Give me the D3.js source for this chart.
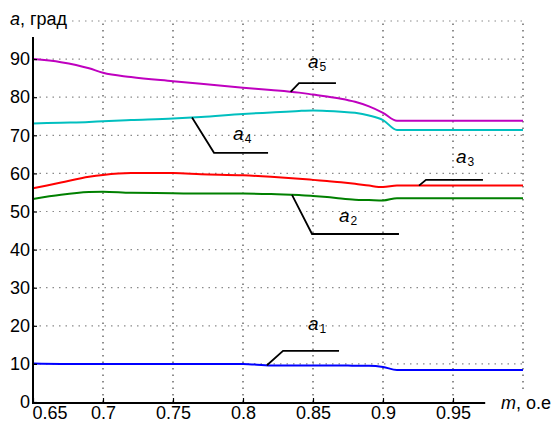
<!DOCTYPE html>
<html>
<head>
<meta charset="utf-8">
<script src="https://cdn.jsdelivr.net/npm/d3@7"></script>
<style>
  html, body { margin: 0; padding: 0; background: #fff; }
  svg { display: block; font-family: "Liberation Sans", Arial, sans-serif; }
</style>
</head>
<body>
<svg id="chart" width="554" height="423"></svg>
<script>
// Modulation index m (o.e) and the five angles a1..a5 (degrees)
const mValues = [0.65, 0.67, 0.69, 0.70, 0.72, 0.75, 0.77, 0.80, 0.82, 0.84, 0.85, 0.86, 0.87, 0.88, 0.89, 0.90, 0.91, 0.95, 1.00];
const a1 = [10.1, 10.0, 10.0, 10.0, 10.0, 10.0, 10.0, 10.0, 9.6, 9.6, 9.6, 9.6, 9.6, 9.5, 9.5, 9.2, 8.4, 8.4, 8.4];
const a2 = [53.3, 54.4, 55.1, 55.2, 54.9, 54.8, 54.7, 54.7, 54.6, 54.3, 54.1, 53.8, 53.4, 53.1, 53.0, 52.9, 53.5, 53.5, 53.5];
const a3 = [56.1, 57.6, 59.1, 59.6, 60.1, 60.1, 59.8, 59.5, 59.1, 58.6, 58.3, 58.0, 57.7, 57.3, 56.8, 56.4, 56.8, 56.8, 56.8];
const a4 = [73.1, 73.3, 73.5, 73.7, 74.0, 74.4, 74.8, 75.6, 76.0, 76.4, 76.5, 76.4, 76.2, 75.9, 75.2, 74.0, 71.4, 71.4, 71.4];
const a5 = [90.0, 89.2, 87.6, 86.4, 85.3, 84.2, 83.5, 82.5, 81.9, 81.2, 80.7, 80.2, 79.6, 78.8, 77.6, 75.9, 73.8, 73.8, 73.8];

const seriesNames = ["1", "2", "3", "4", "5"];
const seriesColors = ["#0000ff", "#008000", "#ff0000", "#00bfbf", "#bf00bf"];

const xTickValues = [0.65, 0.7, 0.75, 0.8, 0.85, 0.9, 0.95];
const xTickLabels = ["0.65", "0.7", "0.75", "0.8", "0.85", "0.9", "0.95"];
const xGridValues = [0.7, 0.75, 0.8, 0.85, 0.9, 0.95, 1.0];
const yTickValues = [0, 10, 20, 30, 40, 50, 60, 70, 80, 90];
const yGridValues = [10, 20, 30, 40, 50, 60, 70, 80, 90, 100];

// Label callouts: anchor m on the curve, elbow point, end of shelf, label position
const calloutSeries = [4, 3, 2, 1, 0];
const calloutAnchorM = [0.834, 0.7636, 0.9257, 0.835, 0.8171];
const calloutElbow = [[0.840, 83.7], [0.7793, 65.4], [0.9307, 58.3], [0.8493, 44.1], [0.8286, 13.4]];
const calloutEndM = [0.8664, 0.8179, 0.9714, 0.9114, 0.8686];
const calloutText = [[0.8464, 87.7], [0.7929, 68.8], [0.9521, 62.7], [0.8686, 47.2], [0.8464, 18.9]];

const series = [a1, a2, a3, a4, a5];

const svg = d3.select("#chart");
const x = d3.scaleLinear().domain([0.65, 1.0]).range([33, 523]);
const y = d3.scaleLinear().domain([0, 100]).range([402, 21]);

// Grid
const grid = svg.append("g");
grid.selectAll("line.hg").data(yGridValues).join("line")
  .attr("x1", x(0.65)).attr("x2", x(1.0))
  .attr("y1", d => y(d)).attr("y2", d => y(d))
  .attr("stroke", "#8a8a8a").attr("stroke-width", 1.2)
  .attr("stroke-dasharray", "1.5,5");
grid.selectAll("line.vg").data(xGridValues).join("line")
  .attr("x1", d => x(d)).attr("x2", d => x(d))
  .attr("y1", y(0)).attr("y2", y(100))
  .attr("stroke", "#444").attr("stroke-width", 1.2)
  .attr("stroke-dasharray", "1.5,5");

// Curves
const line = d3.line().x((d, i) => x(mValues[i])).y(d => y(d)).curve(d3.curveMonotoneX);
svg.append("g").selectAll("path").data(series).join("path")
  .attr("d", d => line(d))
  .attr("fill", "none")
  .attr("stroke", (d, i) => seriesColors[i])
  .attr("stroke-width", 2);

// Axes
const fontSize = 18;
const yAxis = d3.axisLeft(y).tickValues(yTickValues).tickSizeInner(-4).tickSizeOuter(0).tickPadding(3);
const gy = svg.append("g").attr("transform", `translate(${x(0.65)},0)`).call(yAxis);
gy.select(".domain").remove();
gy.selectAll("text").attr("font-size", fontSize).attr("font-family", "Liberation Sans, Arial, sans-serif").attr("fill", "#000");
gy.selectAll("line").attr("stroke", "#000").attr("stroke-width", 1.2);

const xAxis = d3.axisBottom(x).tickValues(xTickValues)
  .tickFormat((d, i) => xTickLabels[i]).tickSizeInner(-4).tickSizeOuter(0).tickPadding(4);
const gx = svg.append("g").attr("transform", `translate(0,${y(0)})`).call(xAxis);
gx.select(".domain").remove();
gx.selectAll("text").attr("font-size", fontSize).attr("font-family", "Liberation Sans, Arial, sans-serif").attr("fill", "#000");
gx.selectAll("line").attr("stroke", "#000").attr("stroke-width", 1.2);
gx.selectAll(".tick").filter(d => d === 0.65).select("text").attr("text-anchor", "start").attr("dx", -1);

// Axis lines
svg.append("line").attr("x1", x(0.65)).attr("x2", x(0.65)).attr("y1", y(0) + 1).attr("y2", y(95.8))
  .attr("stroke", "#000").attr("stroke-width", 2);
svg.append("line").attr("x1", x(0.65) - 1).attr("x2", x(0.973)).attr("y1", y(0) + 1).attr("y2", y(0) + 1)
  .attr("stroke", "#000").attr("stroke-width", 2);

// Axis titles (white backing hides the grid underneath)
function axisTitle(tx, ty, italicPart, rest) {
  const g = svg.append("g");
  const t = g.append("text").attr("x", tx).attr("y", ty).attr("font-size", fontSize).attr("fill", "#000");
  t.append("tspan").attr("font-style", "italic").text(italicPart);
  t.append("tspan").text(rest);
  const b = t.node().getBBox();
  g.insert("rect", "text").attr("x", b.x - 4).attr("y", b.y).attr("width", b.width + 8).attr("height", b.height).attr("fill", "#fff");
}
axisTitle(10, 25, "a", ", град");
axisTitle(501, 409, "m", ", o.e");

// Callouts
function interp(vals, m) {
  const i = d3.bisectRight(mValues, m) - 1;
  const j = Math.min(i + 1, mValues.length - 1);
  const t = j === i ? 0 : (m - mValues[i]) / (mValues[j] - mValues[i]);
  return vals[i] + t * (vals[j] - vals[i]);
}
const callouts = svg.append("g");
calloutSeries.forEach((s, k) => {
  const m0 = calloutAnchorM[k];
  const pts = [
    [x(m0), y(interp(series[s], m0))],
    [x(calloutElbow[k][0]), y(calloutElbow[k][1])],
    [x(calloutEndM[k]), y(calloutElbow[k][1])]
  ];
  callouts.append("path").attr("d", d3.line()(pts))
    .attr("fill", "none").attr("stroke", "#000").attr("stroke-width", 1.8);
  const t = callouts.append("text")
    .attr("x", x(calloutText[k][0])).attr("y", y(calloutText[k][1]))
    .attr("font-size", 19).attr("fill", "#000");
  t.append("tspan").attr("font-style", "italic").text("a");
  t.append("tspan").attr("font-size", 12).attr("dx", 1).attr("dy", 3).text(seriesNames[s]);
});
</script>
</body>
</html>
